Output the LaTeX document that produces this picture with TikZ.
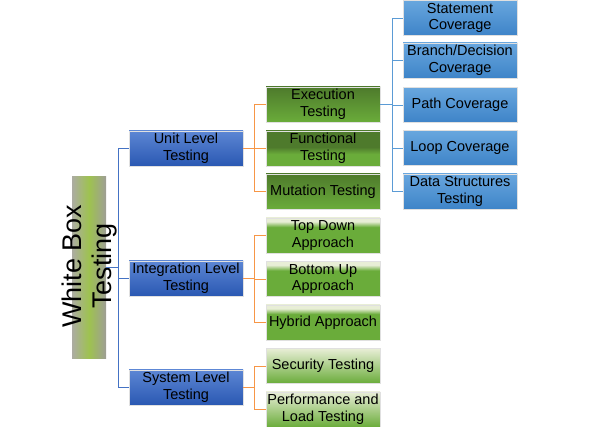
\documentclass[tikz,border=0pt]{standalone}
\usepackage{fontspec}
\setmainfont{Liberation Sans}
\definecolor{rootgrey}{RGB}{172,172,162}
\definecolor{rootgreen}{RGB}{158,194,80}
\definecolor{lvltop}{RGB}{92,134,212}
\definecolor{lvlbot}{RGB}{42,88,178}
\definecolor{covtop}{RGB}{104,166,222}
\definecolor{covbot}{RGB}{62,132,200}
\definecolor{gdark}{RGB}{78,122,44}
\definecolor{glight}{RGB}{106,172,58}
\definecolor{gpale}{RGB}{232,238,214}
\definecolor{edgeblue}{RGB}{68,114,196}
\definecolor{edgeorange}{RGB}{247,150,70}
\definecolor{edgesky}{RGB}{91,155,213}
\pgfdeclareverticalshading{funcshade}{100bp}{color(0bp)=(glight); color(42bp)=(glight);
  color(52bp)=(gdark); color(100bp)=(gdark)}
\pgfdeclareverticalshading{stripshade}{100bp}{color(0bp)=(glight); color(62bp)=(glight);
  color(70bp)=(gpale); color(100bp)=(gpale)}
\tikzset{
  treenode/.style  = {shape=rectangle, draw=black!12, line width=0.6pt,
                      align=center, inner sep=0pt,
                      minimum width=114pt, minimum height=35pt,
                      font=\fontsize{14.5}{16.5}\selectfont},
  root/.style      = {shape=rectangle, inner sep=0pt,
                      minimum width=34pt, minimum height=182pt,
                      left color=rootgrey, right color=rootgrey!92!black,
                      middle color=rootgreen},
  levelbox/.style  = {treenode, top color=lvltop, bottom color=lvlbot},
  coverbox/.style  = {treenode, top color=covtop, bottom color=covbot},
  darkbox/.style   = {treenode, top color=gdark, bottom color=glight},
  funcbox/.style   = {treenode, shading=funcshade},
  stripbox/.style  = {treenode, shading=stripshade},
  palebox/.style   = {treenode, top color=gpale, bottom color=glight},
  rootedge/.style  = {draw=edgeblue, line width=0.9pt},
  midedge/.style   = {draw=edgeorange, line width=0.9pt},
  leafedge/.style  = {draw=edgesky, line width=0.9pt}
}
\begin{document}
\begin{tikzpicture}
  [
    x = 1pt,
    y = -1pt
  ]
  \useasboundingbox (0,0) rectangle (589,427);

  % root
  \node [root] (root) at (89,268) {};
  \node [rotate=90, align=center, font=\fontsize{27}{30}\selectfont]
    (roottext) at (90,266) {White Box\\Testing};

  % levels
  \node [levelbox] (unit)   at (186,148.5) {Unit Level\\Testing};
  \node [levelbox] (integ)  at (186,278.5) {Integration Level\\Testing};
  \node [levelbox] (system) at (186,387.5) {System Level\\Testing};

  % unit level
  \node [darkbox]  (exec) at (323,104.5) {Execution\\Testing};
  \node [funcbox]  (func) at (323,148.5) {Functional\\Testing};
  \node [darkbox]  (mut)  at (323,191.5) {Mutation Testing};

  % integration level
  \node [stripbox] (topdown)  at (323,235.5) {Top Down\\Approach};
  \node [stripbox] (bottomup) at (323,279)   {Bottom Up\\Approach};
  \node [stripbox] (hybrid)   at (323,322.5) {Hybrid Approach};

  % system level
  \node [palebox]  (security) at (323,366)   {Security Testing};
  \node [palebox]  (perf)     at (323,409.5) {Performance and\\Load Testing};

  % execution testing
  \node [coverbox] (stmt)   at (460,18)    {Statement\\Coverage};
  \node [coverbox] (branch) at (460,60.5)  {Branch/Decision\\Coverage};
  \node [coverbox] (path)   at (460,105)   {Path Coverage};
  \node [coverbox] (loop)   at (460,148)   {Loop Coverage};
  \node [coverbox] (data)   at (460,191.5) {Data Structures\\Testing};

  % connectors
  \draw [rootedge] (root.east) ++(0,-1) -- ++(12,0) coordinate (rbus);
  \draw [rootedge] (rbus) |- (unit.west);
  \draw [rootedge] (rbus) |- (integ.west);
  \draw [rootedge] (rbus) |- (system.west);

  \draw [midedge] (unit.east) -- ++(11,0) |- (exec.west);
  \draw [midedge] (unit.east) -- (func.west);
  \draw [midedge] (unit.east) -- ++(11,0) |- (mut.west);
  \draw [midedge] (integ.east) -- ++(11,0) |- (topdown.west);
  \draw [midedge] (integ.east) -- ++(11,0) |- (bottomup.west);
  \draw [midedge] (integ.east) -- ++(11,0) |- (hybrid.west);
  \draw [midedge] (system.east) -- ++(11,0) |- (security.west);
  \draw [midedge] (system.east) -- ++(11,0) |- (perf.west);

  \draw [leafedge] (exec.east) -- ++(12,0) |- (stmt.west);
  \draw [leafedge] (exec.east) -- ++(12,0) |- (branch.west);
  \draw [leafedge] (exec.east) -- ++(12,0) |- (path.west);
  \draw [leafedge] (exec.east) -- ++(12,0) |- (loop.west);
  \draw [leafedge] (exec.east) -- ++(12,0) |- (data.west);
\end{tikzpicture}
\end{document}
